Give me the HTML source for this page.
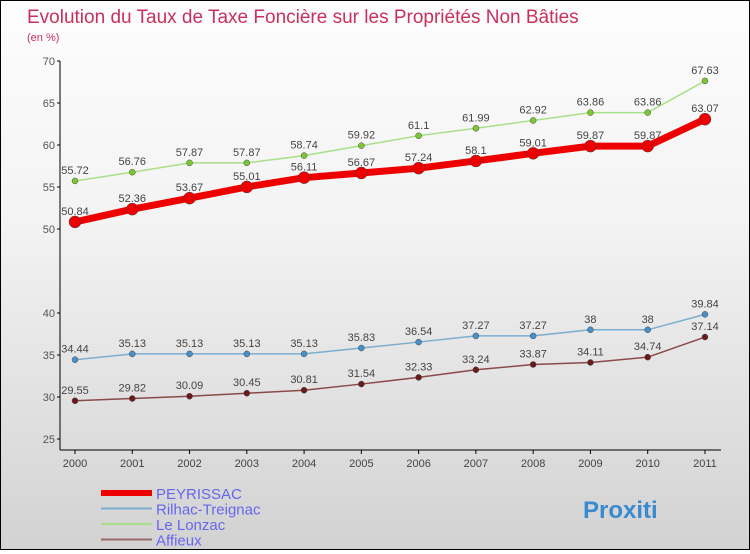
<!DOCTYPE html>
<html><head><meta charset="utf-8"><style>
body{margin:0}
#c{width:748px;height:548px;border:1px solid #000;background:linear-gradient(#fdfdfd,#f3f3f3 40%,#d2d2d2);position:relative;font-family:"Liberation Sans",sans-serif}
text{font-family:"Liberation Sans",sans-serif}
</style></head><body>
<div id="c">
<svg id="s" width="748" height="548"></svg>
</div>
<script>
const years=[2000,2001,2002,2003,2004,2005,2006,2007,2008,2009,2010,2011];
const peyrissac=[50.84,52.36,53.67,55.01,56.11,56.67,57.24,58.1,59.01,59.87,59.87,63.07];
const rilhac=[34.44,35.13,35.13,35.13,35.13,35.83,36.54,37.27,37.27,38,38,39.84];
const lonzac=[55.72,56.76,57.87,57.87,58.74,59.92,61.1,61.99,62.92,63.86,63.86,67.63];
const affieux=[29.55,29.82,30.09,30.45,30.81,31.54,32.33,33.24,33.87,34.11,34.74,37.14];
const yTicks=[25,30,35,40,50,55,60,65,70];
const names=["PEYRISSAC","Rilhac-Treignac","Le Lonzac","Affieux"];
const NS="http://www.w3.org/2000/svg";
const s=document.getElementById('s');
const X=i=>74+i*57.27;
const Y=v=>438-(v-25)*8.4;
function el(t,a,txt){const e=document.createElementNS(NS,t);for(const k in a)e.setAttribute(k,a[k]);if(txt!==undefined)e.textContent=txt;s.appendChild(e);return e;}
let e;
e=el('text',{x:26,y:22,fill:'#c8305e','font-size':19},'Evolution du Taux de Taxe Foncière sur les Propriétés Non Bâties');


e=el('text',{x:26,y:40,fill:'#c8305e','font-size':11},'(en %)');


e=el('line',{x1:59,y1:60,x2:59,y2:449,stroke:'#000'});


e=el('line',{x1:59,y1:449,x2:720,y2:449,stroke:'#000'});


yTicks.forEach(v=>{el('line',{x1:56,y1:Y(v),x2:59,y2:Y(v),stroke:'#000'});
e=el('text',{x:54,y:Y(v)+4,'text-anchor':'end','font-size':11,fill:'#555'},v);

});
years.forEach((y,i)=>{el('line',{x1:X(i),y1:449,x2:X(i),y2:453,stroke:'#000'});
e=el('text',{x:X(i),y:466,'text-anchor':'middle','font-size':11,fill:'#444'},y);

});
function series(d,col,w,r,mk,name){
 e=el('polyline',{points:d.map((v,i)=>X(i)+','+Y(v)).join(' '),fill:'none',stroke:col,'stroke-width':w,'stroke-linejoin':'round'});
 
 
 d.forEach((v,i)=>{e=el('circle',{cx:X(i),cy:Y(v),r:r,fill:mk,stroke:'#444','stroke-width':0.5});
 
 
 e=el('text',{x:X(i),y:Y(v)-7,'text-anchor':'middle','font-size':11,fill:'#444'},v);
 
 });
}
series(lonzac,'#a8e08a',1.5,3,'#7cc832','lonzac');
series(peyrissac,'#ee0000',7,6,'#ee0000','peyrissac');
series(rilhac,'#7aaed0',1.5,3,'#4a90c8','rilhac');
series(affieux,'#8a4a4a',1.5,3,'#6a1a1a','affieux');
const lcol=['#ee0000','#7aaed0','#a8e08a','#9a6a6a'],lw=[6,2,2,2];
names.forEach((n,i)=>{const y=492+i*15.5;
 e=el('line',{x1:100,y1:y,x2:151,y2:y,stroke:lcol[i],'stroke-width':lw[i]});
 
 
 e=el('text',{x:155,y:y+6,'font-size':15,fill:'#6666ee'},n);
 
 });
e=el('text',{x:582,y:517,'font-size':24,'font-weight':'bold',fill:'#3a8ad0'},'Proxiti');


</script>
</body></html>
